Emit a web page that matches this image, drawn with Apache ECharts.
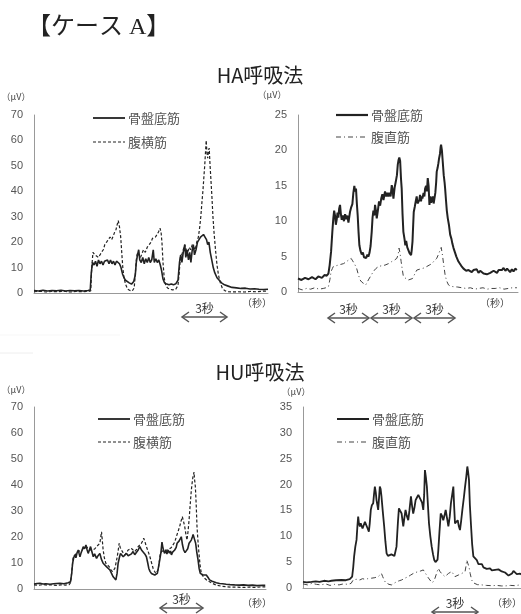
<!DOCTYPE html>
<html><head><meta charset="utf-8">
<script src="https://cdn.jsdelivr.net/npm/echarts@6/dist/echarts.min.js"></script>
<style>html,body{margin:0;padding:0;background:#fff}#c{width:521px;height:614px}</style>
</head><body><div id="c"></div>
<script>
// ---- data: [time (s), amplitude (μV)] ----
const haLeftPelvic = [[0,1.0],[0.3,0.8],[0.6,1.1],[0.9,0.8],[1.2,1.0],[1.5,0.9],[1.8,1.1],[2.1,0.8],[2.4,1.0],[2.7,0.9],[3.0,1.0],[3.3,0.8],[3.6,1.0],[3.75,1.2],[3.82,8],[3.9,12],[4.0,11],[4.1,12.5],[4.2,10.5],[4.3,13],[4.4,11.5],[4.5,12.5],[4.6,11],[4.7,12.5],[4.8,12],[4.9,13],[5.0,11.5],[5.1,13],[5.2,11.5],[5.3,12.5],[5.4,11],[5.5,12.5],[5.6,12],[5.7,11.5],[5.8,10],[5.9,7.5],[6.0,6],[6.1,5],[6.2,4.5],[6.35,4],[6.5,3.5],[6.65,4.5],[6.75,7],[6.82,12],[6.9,15],[6.98,17],[7.05,13],[7.15,12],[7.25,14],[7.35,11.5],[7.45,13.5],[7.55,12],[7.65,14],[7.75,12],[7.85,13],[7.95,17],[8.02,12],[8.12,13.5],[8.22,12],[8.32,13],[8.42,11],[8.5,9],[8.6,5.5],[8.7,4],[8.85,3.5],[9.0,3.2],[9.15,3.5],[9.3,3.2],[9.45,3.6],[9.6,5],[9.7,12],[9.78,15],[9.86,12],[9.95,16],[10.05,19],[10.12,14],[10.2,17],[10.3,13],[10.38,16],[10.46,12],[10.55,17],[10.62,19],[10.7,15],[10.8,17],[10.9,20],[11.0,21],[11.1,22],[11.2,21.5],[11.3,23],[11.4,22],[11.5,21],[11.58,19],[11.66,20],[11.75,16],[11.85,13],[11.95,10],[12.05,8],[12.2,6],[12.35,5],[12.5,4],[12.7,3.2],[12.9,2.8],[13.2,2.2],[13.5,2.0],[13.8,1.8],[14.1,1.9],[14.4,1.6],[14.7,1.7],[15.0,1.5],[15.3,1.4],[15.6,1.5]];
const haLeftTA = [[0,0.5],[0.4,0.7],[0.8,0.4],[1.2,0.6],[1.6,0.5],[2.0,0.7],[2.4,0.4],[2.8,0.6],[3.2,0.5],[3.6,0.6],[3.78,0.8],[3.85,10],[3.93,16],[4.05,15],[4.18,15.5],[4.3,14],[4.4,14.5],[4.5,16],[4.62,17],[4.72,19],[4.84,20],[4.95,21],[5.07,22],[5.18,21],[5.29,22.5],[5.38,24],[5.47,25],[5.55,27],[5.62,28.5],[5.7,26],[5.78,22],[5.86,15],[5.92,10],[6.0,6],[6.1,3.5],[6.24,1.5],[6.4,1.0],[6.55,0.8],[6.68,2],[6.76,8],[6.82,13],[6.9,16],[7.0,15],[7.1,14],[7.2,15.5],[7.3,17],[7.42,16],[7.55,18],[7.68,19],[7.8,20],[7.9,21.5],[8.0,21],[8.1,22],[8.2,23],[8.3,24],[8.4,25.5],[8.47,24],[8.53,20],[8.6,12],[8.68,6],[8.78,3],[8.9,2],[9.05,1.5],[9.25,1.2],[9.45,1.5],[9.6,3],[9.68,8],[9.76,14],[9.85,15],[9.95,17],[10.05,19],[10.15,17],[10.25,16],[10.35,18],[10.45,17],[10.55,19],[10.65,18],[10.75,17],[10.85,20],[10.96,22],[11.05,26],[11.12,30],[11.2,36],[11.26,40],[11.33,46],[11.38,50],[11.44,56],[11.48,60],[11.53,55],[11.58,53],[11.63,56],[11.68,57],[11.74,50],[11.8,44],[11.86,38],[11.93,30],[12.0,24],[12.1,17],[12.2,11],[12.3,7],[12.42,4],[12.55,2],[12.7,1],[12.9,0.5],[13.2,0.4],[13.6,0.5],[14.0,0.4],[14.4,0.6],[14.8,0.5],[15.2,0.7],[15.6,0.8]];
const haRightPelvic = [[0,1.9],[0.25,1.7],[0.5,2.0],[0.75,1.8],[1.0,2.1],[1.25,1.8],[1.45,2.2],[1.7,2.0],[1.9,2.4],[2.05,2.3],[2.17,2.6],[2.26,3.8],[2.36,5.7],[2.45,8.5],[2.52,10.4],[2.58,11.5],[2.64,10.8],[2.7,9.5],[2.76,10.2],[2.82,11.2],[2.88,10.5],[2.94,11.8],[3.0,12.3],[3.06,11],[3.12,10.2],[3.2,10.8],[3.28,10],[3.36,11],[3.44,10.3],[3.52,10.8],[3.6,9.8],[3.66,10.6],[3.71,11.3],[3.8,12],[3.88,12.4],[3.95,14],[4.02,15],[4.08,14.2],[4.14,14.6],[4.2,12.5],[4.26,10.8],[4.32,8.5],[4.38,6.6],[4.46,5.8],[4.55,5.3],[4.63,5.6],[4.71,4.9],[4.79,5.1],[4.87,4.8],[4.95,5.3],[5.02,5.0],[5.1,5.5],[5.18,6.5],[5.26,8.5],[5.32,10.5],[5.38,11.5],[5.44,10.8],[5.5,12.3],[5.56,11.5],[5.62,10.4],[5.7,11.5],[5.78,12.8],[5.86,12.2],[5.94,13.2],[6.02,13.8],[6.1,13.0],[6.21,14.2],[6.3,13.5],[6.38,14],[6.45,13.5],[6.53,14],[6.61,13.5],[6.69,15.1],[6.75,14.5],[6.81,13.2],[6.9,14.8],[6.98,15.6],[7.06,16.5],[7.12,18],[7.17,18.6],[7.23,19],[7.29,18.5],[7.35,16],[7.4,14.6],[7.46,11],[7.52,8.5],[7.6,7.5],[7.66,6.6],[7.72,7.2],[7.8,6.3],[7.88,6.2],[7.96,5.5],[8.02,5.6],[8.07,5.2],[8.12,6],[8.17,7.1],[8.22,9.5],[8.26,11.3],[8.33,12],[8.4,12.8],[8.47,13.5],[8.53,12.5],[8.6,12.3],[8.66,13],[8.71,13.7],[8.78,12.8],[8.83,13.5],[8.88,13.2],[8.96,14],[9.02,13.5],[9.07,14.6],[9.14,15],[9.2,14.2],[9.26,16.1],[9.32,15],[9.38,12.3],[9.44,13.5],[9.5,12.6],[9.55,12.8],[9.62,13.5],[9.68,12.5],[9.74,12.3],[9.8,14],[9.86,15.5],[9.9,17],[9.96,17.5],[10.02,18.2],[10.07,18.9],[10.13,19.5],[10.18,20.5],[10.21,20.8],[10.27,20],[10.33,18.4],[10.4,16.5],[10.46,15.5],[10.5,14.6],[10.56,13],[10.62,11.5],[10.69,10.4],[10.77,9.5],[10.86,8.1],[10.95,7.5],[11.02,6.8],[11.1,6.2],[11.2,5.6],[11.3,5.0],[11.38,4.8],[11.45,4.3],[11.55,4.1],[11.65,3.7],[11.72,3.5],[11.81,3.3],[11.9,3.4],[12.0,3.0],[12.1,3.2],[12.17,3.1],[12.3,3.3],[12.4,2.8],[12.52,3.1],[12.64,2.9],[12.76,3.2],[12.88,2.7],[13.0,3.0],[13.12,2.9],[13.24,2.6],[13.36,2.8],[13.48,2.5],[13.6,2.4],[13.72,2.7],[13.84,2.5],[13.96,3.0],[14.07,2.9],[14.2,2.7],[14.32,3.1],[14.44,3.0],[14.55,3.1],[14.67,3.4],[14.8,3.0],[14.92,3.3],[15.02,3.3],[15.14,2.8],[15.26,3.2],[15.38,2.9],[15.5,3.3],[15.62,3.1]];
const haRightRA = [[0,0.5],[0.3,0.3],[0.6,0.5],[0.9,0.4],[1.2,0.6],[1.5,0.4],[1.8,0.5],[2.0,0.6],[2.17,0.75],[2.28,1.8],[2.36,2.9],[2.45,3.3],[2.52,3.6],[2.7,3.7],[2.88,3.8],[3.05,3.9],[3.24,4.0],[3.4,4.2],[3.6,4.5],[3.79,4.75],[3.9,4.4],[4.02,4.0],[4.1,3.7],[4.19,3.3],[4.3,2.5],[4.43,1.7],[4.55,1.4],[4.67,1.2],[4.83,1.0],[4.92,1.3],[5.02,1.7],[5.2,2.3],[5.38,2.9],[5.55,3.3],[5.74,3.6],[5.95,3.7],[6.21,3.8],[6.45,4.0],[6.69,4.3],[6.88,4.5],[7.05,4.75],[7.15,5.3],[7.21,6.2],[7.28,5.5],[7.36,4.3],[7.44,3.2],[7.52,2.2],[7.7,1.9],[7.88,1.7],[8.02,1.7],[8.17,1.9],[8.32,2.5],[8.48,3.1],[8.65,3.2],[8.83,3.3],[9.0,3.4],[9.19,3.6],[9.37,3.8],[9.55,4.0],[9.72,4.4],[9.9,4.75],[10.02,5.3],[10.14,5.9],[10.22,6.3],[10.31,5.2],[10.4,3.8],[10.5,2.4],[10.6,1.6],[10.74,1.0],[10.9,0.8],[11.1,0.75],[11.4,0.7],[11.69,0.6],[12.0,0.5],[12.3,0.6],[12.6,0.4],[12.88,0.5],[13.2,0.6],[13.5,0.4],[13.8,0.5],[14.07,0.5],[14.4,0.6],[14.7,0.4],[15.0,0.5],[15.3,0.6],[15.62,0.6]];
const huLeftPelvic = [[0,1.9],[0.2,2.1],[0.4,2.2],[0.6,1.9],[0.8,2.0],[1.07,1.8],[1.3,2.0],[1.5,2.1],[1.73,2.2],[2.0,2.0],[2.29,2.4],[2.44,2.8],[2.52,6],[2.58,9.9],[2.65,12],[2.73,13.1],[2.8,12],[2.88,14],[2.96,15],[3.02,13.5],[3.07,12.4],[3.15,14],[3.22,15],[3.29,16.3],[3.38,15.5],[3.47,16.9],[3.55,15],[3.62,13.7],[3.7,15],[3.78,16.3],[3.86,14.5],[3.96,12.4],[4.05,13.5],[4.18,11.8],[4.28,12.8],[4.4,13.7],[4.5,11.5],[4.62,9.9],[4.72,10.5],[4.84,8.6],[4.95,8],[5.07,7.3],[5.18,6],[5.29,4.7],[5.38,4],[5.47,3.5],[5.55,6],[5.62,9.9],[5.7,12],[5.78,13.7],[5.87,13],[5.96,12.4],[6.07,13],[6.18,13.7],[6.29,12.8],[6.4,12.4],[6.51,13.5],[6.62,14.4],[6.73,13.2],[6.84,13.7],[6.96,15],[7.07,16.3],[7.18,15],[7.29,14.4],[7.4,13.5],[7.51,12.4],[7.6,10],[7.67,7.9],[7.75,6.8],[7.84,6.0],[7.95,5.5],[8.07,5.4],[8.16,5.6],[8.24,6.0],[8.32,8.5],[8.4,11.2],[8.48,14],[8.55,18],[8.6,16.3],[8.67,14.5],[8.73,13.7],[8.8,15],[8.88,13.5],[8.96,15],[9.05,13.8],[9.12,14.6],[9.18,13.1],[9.26,14.2],[9.33,13.5],[9.4,15],[9.5,16],[9.56,17.6],[9.62,17],[9.7,18.5],[9.78,19],[9.84,20.1],[9.92,17],[10.0,15],[10.09,14],[10.18,13.7],[10.27,15.5],[10.36,17.6],[10.44,18],[10.51,18.8],[10.58,20],[10.63,21],[10.67,21.4],[10.73,19],[10.8,17.6],[10.88,14],[10.96,11.2],[11.03,8],[11.11,6.0],[11.2,5.5],[11.29,5.4],[11.4,5.8],[11.51,5.4],[11.62,4.5],[11.73,3.5],[11.9,3],[12.0,2.7],[12.18,2.4],[12.4,2.1],[12.6,2.0],[12.84,1.8],[13.1,1.7],[13.4,1.6],[13.73,1.5],[14.0,1.6],[14.3,1.4],[14.6,1.5],[14.9,1.3],[15.29,1.4],[15.45,1.4]];
const huLeftTA = [[0,1.6],[0.3,1.4],[0.6,1.7],[0.9,1.5],[1.2,1.6],[1.5,1.4],[1.8,1.6],[2.1,1.5],[2.35,1.7],[2.45,2.5],[2.51,6],[2.58,10],[2.62,12.4],[2.73,13],[2.84,13.7],[2.95,14.5],[3.07,15],[3.18,14.8],[3.29,15.6],[3.4,16],[3.51,16.3],[3.62,15.5],[3.73,15],[3.85,14.8],[3.96,14.4],[4.07,15.5],[4.18,16.3],[4.3,17],[4.4,17.6],[4.46,20],[4.51,22],[4.56,19],[4.62,15],[4.7,12],[4.8,9.9],[4.9,9.2],[5.02,8.6],[5.13,7.5],[5.24,6.7],[5.32,7.2],[5.4,7.9],[5.48,10],[5.56,12.4],[5.63,15],[5.69,17.6],[5.76,16],[5.84,15],[5.95,14],[6.07,13.1],[6.18,14],[6.29,15],[6.4,15.2],[6.51,15.6],[6.62,15],[6.73,14.4],[6.85,15.2],[6.96,16.3],[7.07,17],[7.18,17.6],[7.26,18.5],[7.33,19.5],[7.42,18],[7.51,16.3],[7.59,15],[7.67,13.7],[7.74,12.5],[7.8,11.2],[7.88,9.5],[7.96,7.9],[8.05,6.8],[8.13,6.0],[8.21,6.5],[8.29,7.3],[8.36,10],[8.44,13.7],[8.53,14.5],[8.62,15],[8.73,14.8],[8.84,14.4],[8.95,15],[9.07,15.6],[9.18,16],[9.29,16.3],[9.4,18],[9.51,20.1],[9.62,22],[9.73,24],[9.82,26],[9.91,27.8],[9.99,26],[10.07,24],[10.15,21],[10.22,18.8],[10.29,22],[10.36,26.5],[10.43,32],[10.51,38],[10.57,41],[10.62,43.2],[10.66,44],[10.69,45],[10.73,42],[10.78,39.4],[10.84,32],[10.89,24],[10.96,18],[11.02,13.7],[11.1,9],[11.18,6.0],[11.28,5],[11.4,4.1],[11.55,3.4],[11.73,2.8],[11.95,2.1],[12.18,1.5],[12.5,1.1],[12.84,0.9],[13.2,0.7],[13.6,0.7],[14.0,0.6],[14.4,0.7],[14.8,0.6],[15.2,0.8],[15.45,0.8]];
const huRightPelvic = [[0,1.2],[0.25,1.1],[0.56,1.2],[0.85,1.3],[1.1,1.2],[1.4,1.4],[1.7,1.3],[1.89,1.4],[2.2,1.5],[2.56,1.55],[2.85,1.5],[3.11,1.7],[3.2,1.8],[3.27,2.2],[3.34,4],[3.4,6.1],[3.48,8],[3.56,9.3],[3.62,12],[3.67,13.8],[3.72,12.5],[3.78,11.9],[3.84,12.5],[3.89,12.8],[3.96,11.5],[4.04,11.2],[4.12,12.8],[4.22,12.5],[4.3,11.5],[4.38,10.9],[4.44,12.5],[4.51,15.1],[4.58,16],[4.67,16.4],[4.72,18],[4.78,19.6],[4.84,18.5],[4.89,17.0],[4.95,16],[5.0,15.1],[5.06,17.5],[5.11,19.6],[5.16,19.2],[5.22,17.7],[5.3,15],[5.4,11.9],[5.48,9],[5.56,6.7],[5.65,6.2],[5.78,6.1],[5.88,6.5],[6.0,6.4],[6.08,6.2],[6.16,6.1],[6.22,8],[6.27,10.6],[6.32,13],[6.38,15.4],[6.45,15],[6.56,14.4],[6.62,13],[6.67,11.9],[6.74,13.5],[6.82,15.1],[6.9,14],[7.0,13.1],[7.08,15],[7.18,17.7],[7.25,16],[7.33,14.4],[7.41,15.5],[7.49,17.0],[7.58,17.5],[7.67,18.0],[7.76,17.8],[7.84,17.0],[7.92,16.5],[8.0,15.1],[8.06,18],[8.11,22.8],[8.17,21.5],[8.24,19.6],[8.31,16],[8.38,12.5],[8.47,10],[8.56,8.0],[8.65,6.5],[8.73,5.4],[8.81,5.0],[8.89,4.8],[8.95,5.5],[9.0,7.3],[9.08,11],[9.16,14.4],[9.24,14],[9.33,13.1],[9.41,14],[9.49,15.1],[9.58,13.5],[9.67,11.9],[9.76,13.8],[9.84,16.4],[9.92,18],[10.0,19.6],[10.05,16],[10.11,12.5],[10.2,12.8],[10.29,13.1],[10.36,12],[10.44,11.2],[10.52,13],[10.6,15.1],[10.7,17.5],[10.78,19.6],[10.86,21.5],[10.93,23.5],[10.98,22.5],[11.04,20.9],[11.1,16],[11.18,11.9],[11.25,8.5],[11.33,6.1],[11.44,5.8],[11.56,5.4],[11.67,4.6],[11.78,4.4],[11.9,4.6],[12.0,4.0],[12.11,4.1],[12.22,3.7],[12.33,4.0],[12.44,3.8],[12.56,3.4],[12.67,3.7],[12.78,3.5],[12.9,3.2],[13.0,3.6],[13.11,3.5],[13.22,3.2],[13.33,3.0],[13.44,3.0],[13.55,2.7],[13.67,2.4],[13.78,2.5],[13.9,2.8],[14.0,3.3],[14.11,3.2],[14.22,2.7],[14.33,2.9],[14.44,2.8],[14.5,2.6]];
const huRightRA = [[0,0.8],[0.3,0.6],[0.6,0.9],[0.9,0.7],[1.2,0.6],[1.5,0.8],[1.8,0.5],[2.1,0.7],[2.4,0.6],[2.7,0.8],[3.0,0.7],[3.2,0.9],[3.27,1.2],[3.35,1.6],[3.44,1.9],[3.6,1.7],[3.78,1.55],[3.95,1.8],[4.11,1.7],[4.3,1.8],[4.56,1.9],[4.78,2.0],[5.0,2.2],[5.12,2.5],[5.22,2.8],[5.3,2.2],[5.4,1.55],[5.48,1.1],[5.56,0.9],[5.72,0.7],[5.89,0.6],[6.05,0.9],[6.22,1.2],[6.4,1.4],[6.56,1.55],[6.78,1.9],[7.0,2.2],[7.16,2.5],[7.33,2.8],[7.5,3.0],[7.67,3.2],[7.84,3.3],[8.0,3.5],[8.11,3.0],[8.22,2.5],[8.33,2.0],[8.44,1.55],[8.52,1.2],[8.6,1.0],[8.7,1.4],[8.78,1.9],[8.88,2.8],[9.0,3.8],[9.11,3.2],[9.22,2.8],[9.33,2.5],[9.44,2.2],[9.55,2.5],[9.67,2.8],[9.78,3.0],[9.89,3.2],[10.0,2.7],[10.11,2.2],[10.22,2.4],[10.33,2.5],[10.44,2.6],[10.56,2.8],[10.67,3.0],[10.78,3.2],[10.84,4.2],[10.89,5.4],[10.96,4.8],[11.04,4.1],[11.12,2.8],[11.22,1.55],[11.33,1.0],[11.44,0.7],[11.6,0.65],[11.89,0.6],[12.2,0.5],[12.56,0.45],[12.9,0.5],[13.2,0.4],[13.44,0.4],[13.8,0.5],[14.1,0.45],[14.44,0.6],[14.5,0.6]];

const yMaxes = [70, 25, 70, 35];
const yIntervals = [10, 5, 10, 5];
const xMaxes = [15.6, 15.7, 15.5, 14.5];
const names = { pelvic: '骨盤底筋', ta: '腹横筋', ra: '腹直筋' };

const chart = echarts.init(document.getElementById('c'), null, { renderer: 'canvas' });

const grids = [
  { left: 34, top: 115, width: 234, height: 178 },
  { left: 298, top: 115, width: 220, height: 177 },
  { left: 34, top: 407, width: 232, height: 182 },
  { left: 303, top: 407, width: 218, height: 181 }
];
const labelFont = 'Liberation Sans, Arial, sans-serif';
const xAxes = grids.map((g, i) => ({
  gridIndex: i, type: 'value', min: 0, max: xMaxes[i],
  axisLine: { show: true, onZero: false, lineStyle: { color: '#999', width: 1 } },
  axisTick: { show: false }, axisLabel: { show: false }, splitLine: { show: false }
}));
const yAxes = grids.map((g, i) => ({
  gridIndex: i, type: 'value', min: 0, max: yMaxes[i], interval: yIntervals[i],
  axisLine: { show: true, lineStyle: { color: '#999', width: 1 } },
  axisTick: { show: false }, splitLine: { show: false },
  axisLabel: { color: '#555', fontSize: 11, margin: 11, fontFamily: labelFont }
}));

const solid = (w) => ({ color: '#222', width: w, type: 'solid' });
const dashed = { color: '#222', width: 1.2, type: [3, 2] };
const dashDot = { color: '#444', width: 1, type: [5, 3, 1, 3] };
function ser(name, data, i, ls, z) {
  return { name, type: 'line', xAxisIndex: i, yAxisIndex: i, data, symbol: 'none', showSymbol: false,
    lineStyle: ls, itemStyle: { color: ls.color }, animation: false, z: z || 2 };
}
const series = [
  ser(names.pelvic, haLeftPelvic, 0, solid(1.6), 3),
  ser(names.ta, haLeftTA, 0, dashed),
  ser(names.pelvic, haRightPelvic, 1, solid(2), 3),
  ser(names.ra, haRightRA, 1, dashDot),
  ser(names.pelvic, huLeftPelvic, 2, solid(1.6), 3),
  ser(names.ta, huLeftTA, 2, dashed),
  ser(names.pelvic, huRightPelvic, 3, solid(1.8), 3),
  ser(names.ra, huRightRA, 3, dashDot)
];

// legend keys drawn as lines + labels
function legendKey(x, y, label, ls) {
  return [
    { type: 'line', shape: { x1: x, y1: y, x2: x + 32, y2: y },
      style: { stroke: ls.color, lineWidth: Math.max(ls.width, 1.2), lineDash: ls.type === 'solid' ? null : ls.type } },
    { type: 'text', x: x + 35, y, style: { text: label, fill: '#555', fontSize: 13, fontFamily: 'Noto Sans CJK JP', align: 'left', verticalAlign: 'middle' } }
  ];
}

function arrow(x1, x2, y, label) {
  const c = '#555';
  return [
    { type: 'line', shape: { x1, y1: y, x2, y2: y }, style: { stroke: c, lineWidth: 1.5 } },
    { type: 'polyline', shape: { points: [[x1 + 7, y - 5], [x1, y], [x1 + 7, y + 5]] }, style: { stroke: c, lineWidth: 1.5, fill: null } },
    { type: 'polyline', shape: { points: [[x2 - 7, y - 5], [x2, y], [x2 - 7, y + 5]] }, style: { stroke: c, lineWidth: 1.5, fill: null } },
    { type: 'text', x: (x1 + x2) / 2, y: y - 9, style: { text: label, fill: '#333', fontSize: 12, fontFamily: 'Noto Sans CJK JP', align: 'center', verticalAlign: 'middle' } }
  ];
}
function txt(x, y, text, size, extra) {
  return { type: 'text', x, y, style: Object.assign({ text, fill: '#444', fontSize: size, fontFamily: 'Noto Sans CJK JP', align: 'center', verticalAlign: 'middle' }, extra || {}) };
}

const graphics = [
  txt(27, 28, '【ケース A】', 24, { align: 'left', fill: '#222', fontFamily: 'Liberation Serif, Noto Sans CJK JP' }),
  txt(260, 75, 'HA呼吸法', 20, { fill: '#222' }),
  txt(260, 372, 'HU呼吸法', 20, { fill: '#222' }),
  txt(16, 97, '（μV）', 9),
  txt(272, 95, '（μV）', 9),
  txt(16, 390, '（μV）', 9),
  txt(296, 392, '（μV）', 9),
  txt(257, 303, '（秒）', 10),
  txt(495, 303, '（秒）', 10),
  txt(257, 603, '（秒）', 10),
  txt(507, 603, '（秒）', 10),
  { type: 'line', shape: { x1: 0, y1: 335, x2: 120, y2: 335 }, style: { stroke: '#f7f7f7', lineWidth: 1 } },
  { type: 'line', shape: { x1: 0, y1: 353, x2: 33, y2: 353 }, style: { stroke: '#eeeeee', lineWidth: 1 } }
].concat(
  legendKey(93, 118, names.pelvic, solid(1.8)),
  legendKey(93, 142, names.ta, dashed),
  legendKey(336, 115, names.pelvic, solid(2.2)),
  legendKey(336, 137, names.ra, dashDot),
  legendKey(98, 419, names.pelvic, solid(1.8)),
  legendKey(98, 442, names.ta, dashed),
  legendKey(337, 419, names.pelvic, solid(2)),
  legendKey(337, 442, names.ra, dashDot),
  arrow(182, 227, 317, '3秒'),
  arrow(328, 369, 318, '3秒'),
  arrow(371, 412, 318, '3秒'),
  arrow(414, 455, 318, '3秒'),
  arrow(160, 203, 608, '3秒'),
  arrow(432, 478, 612, '3秒')
);

chart.setOption({
  backgroundColor: '#fff',
  animation: false,
  grid: grids,
  xAxis: xAxes,
  yAxis: yAxes,
  series,
  graphic: graphics
});
</script>
</body></html>
